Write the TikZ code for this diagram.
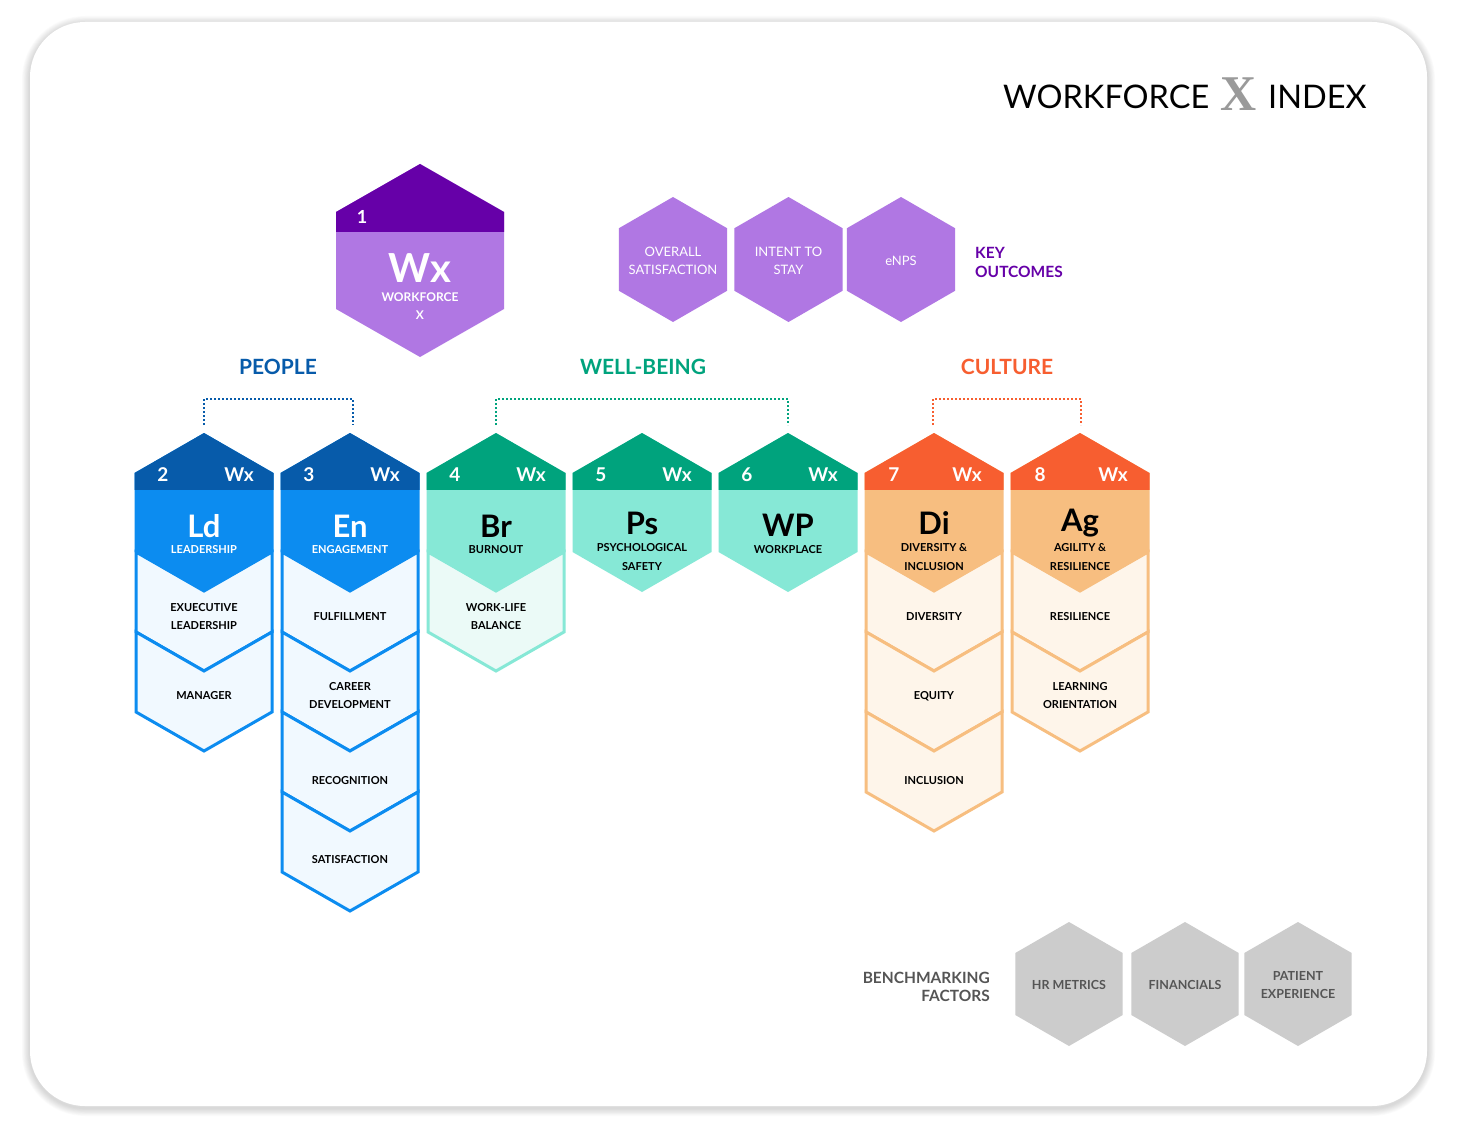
\documentclass[tikz,border=0pt]{standalone}
\usepackage{fontspec}
\setmainfont{Lato}
\newfontfamily\serifx{Liberation Serif}
\definecolor{bdark}{HTML}{075BAA}
\definecolor{bmid}{HTML}{0C8CF0}
\definecolor{blight}{HTML}{F1F9FF}
\definecolor{gdark}{HTML}{00A37D}
\definecolor{gmid}{HTML}{86E8D6}
\definecolor{glight}{HTML}{EBFAF7}
\definecolor{odark}{HTML}{F75E30}
\definecolor{omid}{HTML}{F7BE80}
\definecolor{olight}{HTML}{FEF5EA}
\definecolor{pdark}{HTML}{6600A8}
\definecolor{plight}{HTML}{B077E3}
\definecolor{hgray}{HTML}{CCCCCC}
\definecolor{tgray}{HTML}{555555}
\definecolor{xgray}{HTML}{9A9A9A}
\newcommand\wxMainHex[3]{%
  \fill[#3] (#1,433) -- ({#1+69.5},473) -- ({#1+69.5},552) -- (#1,592) -- ({#1-69.5},552) -- ({#1-69.5},473) -- cycle;
  \begin{scope}
  \clip ({#1-72},428) rectangle ({#1+72},489);
  \fill[#2] (#1,433) -- ({#1+69.5},473) -- ({#1+69.5},552) -- (#1,592) -- ({#1-69.5},552) -- ({#1-69.5},473) -- cycle;
  \end{scope}}
\newcommand\wxSub[4]{%
  \filldraw[fill=#4, draw=#3, line width=3pt, line join=miter] ({#1-68},#2) -- (#1,{#2+39}) -- ({#1+68},#2) -- ({#1+68},{#2+80}) -- (#1,{#2+119}) -- ({#1-68},{#2+80}) -- cycle;}
\newcommand\wxHex[4]{%
  \fill[#4] (#1,{#2-#3}) -- ({#1+0.866*#3},{#2-0.5*#3}) -- ({#1+0.866*#3},{#2+0.5*#3}) -- (#1,{#2+#3}) -- ({#1-0.866*#3},{#2+0.5*#3}) -- ({#1-0.866*#3},{#2-0.5*#3}) -- cycle;}
\tikzset{
  hdr/.style={text=white, font=\bfseries\fontsize{19}{20}\selectfont, inner sep=0pt},
  big/.style={font=\bfseries\fontsize{31}{32}\selectfont, inner sep=0pt},
  subt/.style={font=\bfseries\fontsize{11}{19}\selectfont, inner sep=0pt, align=center},
  item/.style={font=\bfseries\fontsize{11}{18}\selectfont, inner sep=0pt, align=center, text=black},
  outc/.style={font=\fontsize{13}{18}\selectfont, inner sep=0pt, align=center, text=white},
  bench/.style={font=\bfseries\fontsize{12.5}{18}\selectfont, inner sep=0pt, align=center, text=tgray},
  cat/.style={font=\bfseries\fontsize{21}{22}\selectfont, inner sep=0pt},
  bracket/.style={line width=2pt, dash pattern=on 2pt off 2pt},
}
\begin{document}
\begin{tikzpicture}[x=1pt,y=-1pt]
\useasboundingbox (0,0) rectangle (1457,1129);
% card with soft shadow
\foreach \i in {1,...,10}{
  \draw[black, opacity=0.016, line width=\i*1.6pt, rounded corners=55pt] (30,24) rectangle (1427,1108);
}
\fill[white, rounded corners=55pt] (30,22) rectangle (1427,1106);

% title
\node[anchor=base west, inner sep=0pt, font=\fontsize{32.5}{36}\selectfont] (tw) at (1003,109) {WORKFORCE};
\node[anchor=base, inner sep=0pt, text=xgray, font=\serifx\bfseries\fontsize{50}{50}\selectfont] (tx) at (1239,111) {X};
\node[anchor=base west, inner sep=0pt, font=\fontsize{32.5}{36}\selectfont] (ti) at (1268,109) {INDEX};

% Wx main hexagon
\fill[plight] (420,164) -- (504,212) -- (504,309) -- (420,357) -- (336,309) -- (336,212) -- cycle;
\begin{scope}
\clip (330,160) rectangle (510,231);
\fill[pdark] (420,164) -- (504,212) -- (504,309) -- (420,357) -- (336,309) -- (336,212) -- cycle;
\end{scope}
\node[hdr, font=\bfseries\fontsize{18}{20}\selectfont] (n1) at (362,217) {1};
\node[inner sep=0pt, text=white, font=\bfseries\fontsize{40}{40}\selectfont] (wx1) at (420,268) {Wx};
\node[inner sep=0pt, text=white, align=center, font=\bfseries\fontsize{12}{18}\selectfont] (wx1t) at (420,306) {WORKFORCE\\X};

% key outcomes
\wxHex{673}{259.5}{62.5}{plight}
\wxHex{788.5}{259.5}{62.5}{plight}
\wxHex{901}{259.5}{62.5}{plight}
\node[outc] (ko1) at (673,261) {OVERALL\\SATISFACTION};
\node[outc] (ko2) at (788.5,261) {INTENT TO\\STAY};
\node[outc] (ko3) at (901,261) {eNPS};
\node[anchor=west, inner sep=0pt, align=left, text=pdark, font=\bfseries\fontsize{15.5}{19}\selectfont] (kol) at (975,262) {KEY\\OUTCOMES};

% categories
\node[cat, text=bdark] (people) at (278,367) {PEOPLE};
\node[cat, text=gdark] (well) at (643,367) {WELL-BEING};
\node[cat, text=odark] (cult) at (1007,367) {CULTURE};

% column tops for brackets
\coordinate (tLd) at (204,425);
\coordinate (tEn) at (353,425);
\coordinate (tBr) at (496,425);
\coordinate (tWP) at (788,425);
\coordinate (tDi) at (933,425);
\coordinate (tAg) at (1081,425);
\draw[bracket, bdark] (tLd) -- ++(0,-26) -| (tEn);
\draw[bracket, gdark] (tBr) -- ++(0,-26) -| (tWP);
\draw[bracket, odark] (tDi) -- ++(0,-26) -| (tAg);

% sub items
\wxSub{204}{552}{bmid}{blight}
\wxSub{204}{632}{bmid}{blight}
\wxSub{350}{552}{bmid}{blight}
\wxSub{350}{632}{bmid}{blight}
\wxSub{350}{712}{bmid}{blight}
\wxSub{350}{792}{bmid}{blight}
\wxSub{496}{552}{gmid}{glight}
\wxSub{934}{552}{omid}{olight}
\wxSub{934}{632}{omid}{olight}
\wxSub{934}{712}{omid}{olight}
\wxSub{1080}{552}{omid}{olight}
\wxSub{1080}{632}{omid}{olight}

% main column hexagons
\wxMainHex{204}{bdark}{bmid}
\wxMainHex{350}{bdark}{bmid}
\wxMainHex{496}{gdark}{gmid}
\wxMainHex{642}{gdark}{gmid}
\wxMainHex{788}{gdark}{gmid}
\wxMainHex{934}{odark}{omid}
\wxMainHex{1080}{odark}{omid}

% header labels
\node[hdr] (n2) at (163,475) {2};   \node[hdr] (w2) at (239,475) {Wx};
\node[hdr] (n3) at (309,475) {3};   \node[hdr] (w3) at (385,475) {Wx};
\node[hdr] (n4) at (455,475) {4};   \node[hdr] (w4) at (531,475) {Wx};
\node[hdr] (n5) at (601,475) {5};   \node[hdr] (w5) at (677,475) {Wx};
\node[hdr] (n6) at (747,475) {6};   \node[hdr] (w6) at (823,475) {Wx};
\node[hdr] (n7) at (894,475) {7};   \node[hdr] (w7) at (967,475) {Wx};
\node[hdr] (n8) at (1040,475) {8};  \node[hdr] (w8) at (1113,475) {Wx};

% big letters and subtitles
\node[big, text=white] (bLd) at (204,526) {Ld};
\node[subt, text=white] (sLd) at (204,550) {LEADERSHIP};
\node[big, text=white] (bEn) at (350,526) {En};
\node[subt, text=white] (sEn) at (350,550) {ENGAGEMENT};
\node[big] (bBr) at (496,526) {Br};
\node[subt] (sBr) at (496,550) {BURNOUT};
\node[big] (bPs) at (642,523) {Ps};
\node[subt] (sPs) at (642,557.5) {PSYCHOLOGICAL\\SAFETY};
\node[big] (bWP) at (788,525) {WP};
\node[subt] (sWP) at (788,550) {WORKPLACE};
\node[big] (bDi) at (934,523) {Di};
\node[subt] (sDi) at (934,557.5) {DIVERSITY \&\\INCLUSION};
\node[big] (bAg) at (1080,523) {Ag};
\node[subt] (sAg) at (1080,557.5) {AGILITY \&\\RESILIENCE};

% sub item texts
\node[item] (i21) at (204,617) {EXUECUTIVE\\LEADERSHIP};
\node[item] (i22) at (204,696) {MANAGER};
\node[item] (i31) at (350,617) {FULFILLMENT};
\node[item] (i32) at (350,696) {CAREER\\DEVELOPMENT};
\node[item] (i33) at (350,781) {RECOGNITION};
\node[item] (i34) at (350,860) {SATISFACTION};
\node[item] (i41) at (496,617) {WORK-LIFE\\BALANCE};
\node[item] (i71) at (934,617) {DIVERSITY};
\node[item] (i72) at (934,696) {EQUITY};
\node[item] (i73) at (934,781) {INCLUSION};
\node[item] (i81) at (1080,617) {RESILIENCE};
\node[item] (i82) at (1080,696) {LEARNING\\ORIENTATION};

% benchmarking
\wxHex{1069}{984}{62}{hgray}
\wxHex{1185}{984}{62}{hgray}
\wxHex{1298}{984}{62}{hgray}
\node[bench] (bf1) at (1069,985) {HR METRICS};
\node[bench] (bf2) at (1185,985) {FINANCIALS};
\node[bench] (bf3) at (1298,985) {PATIENT\\EXPERIENCE};
\node[anchor=east, inner sep=0pt, align=right, text=tgray, font=\bfseries\fontsize{15.5}{18}\selectfont] (bfl) at (990,987) {BENCHMARKING\\FACTORS};
\end{tikzpicture}
\end{document}
